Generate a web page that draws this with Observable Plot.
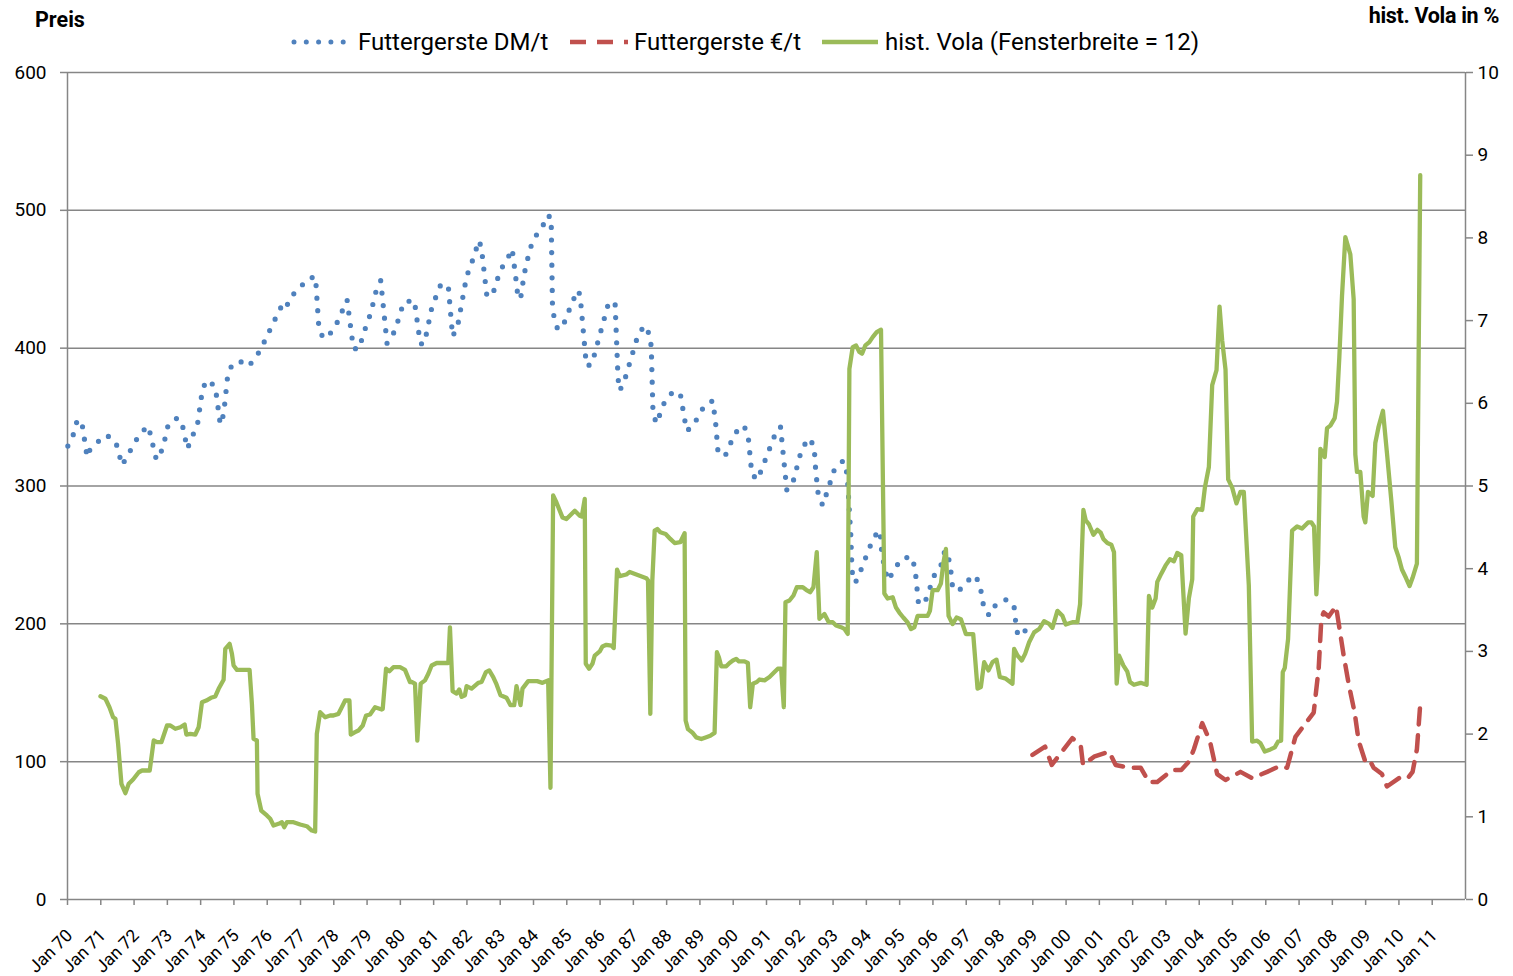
<!DOCTYPE html>
<html><head><meta charset="utf-8">
<script src="https://cdn.jsdelivr.net/npm/d3@7"></script>
<script src="https://cdn.jsdelivr.net/npm/@observablehq/plot@0.6"></script>
<style>
body{margin:0;background:#fff;}
#wrap{position:relative;width:1513px;height:976px;font-family:Roboto,"Noto Sans",sans-serif;color:#000;}
.ttl{position:absolute;font-weight:bold;font-size:21.5px;white-space:nowrap;}
.lg{position:absolute;top:27px;height:30px;font-size:24px;line-height:30px;white-space:nowrap;}
.sw{position:absolute;top:37px;}
#chart{position:absolute;left:0;top:0;}
</style></head>
<body>
<div id="wrap">
  <div id="chart"></div>
  <div class="ttl" style="left:35px;top:7px;">Preis</div>
  <div class="ttl" style="right:14px;top:3px;letter-spacing:-0.3px;">hist. Vola in %</div>
  <svg class="sw" style="left:290px" width="64" height="10"><line x1="4" y1="5" x2="62" y2="5" stroke="#4F81BD" stroke-width="5" stroke-linecap="round" stroke-dasharray="0,12.3"/></svg>
  <div class="lg" style="left:358px">Futtergerste DM/t</div>
  <svg class="sw" style="left:568px" width="62" height="10"><line x1="2" y1="5" x2="60" y2="5" stroke="#C0504D" stroke-width="4.5" stroke-dasharray="16,11"/></svg>
  <div class="lg" style="left:634px">Futtergerste €/t</div>
  <svg class="sw" style="left:820px" width="60" height="10"><line x1="2" y1="5" x2="58" y2="5" stroke="#9BBB59" stroke-width="4.5"/></svg>
  <div class="lg" style="left:885px">hist. Vola (Fensterbreite = 12)</div>
</div>
<script>
// Futtergerste DM/t  [Jahr, Preis]
const dmSeries = [
[1970.01,329],[1970.17,337],[1970.27,346],[1970.42,348],[1970.59,321],[1970.67,326],[1970.91,332],
[1971.17,337],[1971.45,332],[1971.64,315],[1971.80,322],[1971.99,330],[1972.17,338],[1972.43,343.5],
[1972.67,319],[1972.86,327],[1973.03,345],[1973.31,349.5],[1973.45,344.5],[1973.60,327],[1973.78,337.7],
[1973.90,343.7],[1974.06,371],[1974.21,377],[1974.44,372],[1974.59,344.7],[1974.69,352],[1974.81,379.5],
[1974.94,388],[1975.11,388],[1975.32,392],[1975.50,388.7],[1975.68,394],[1975.86,402],[1976.19,418.7],
[1976.44,431],[1976.56,428.6],[1976.69,437],[1976.96,443],[1977.19,450],[1977.45,452],[1977.55,415.5],
[1977.68,407],[1977.93,411.5],[1978.11,419],[1978.40,435],[1978.59,399.8],[1978.76,399.3],[1978.86,408],
[1978.98,416.7],[1979.11,425.4],[1979.29,443.4],[1979.41,449],[1979.60,403.5],[1979.74,407.6],[1979.88,416],
[1980.10,433.4],[1980.42,434.7],[1980.60,403.2],[1980.72,403.2],[1980.95,430],[1981.22,446.5],[1981.44,445],
[1981.57,408.5],[1981.72,416],[1981.99,452],[1982.25,469],[1982.34,478],[1982.43,474],[1982.60,437.7],
[1982.77,438.7],[1983.00,456.4],[1983.20,464],[1983.36,472],[1983.49,446.7],[1983.53,437.6],[1983.61,435.6],
[1983.72,453.7],[1983.89,471.7],[1984.03,480.4],[1984.27,487.4],[1984.37,496],[1984.53,495.3],[1984.57,431],
[1984.62,422],[1984.73,413.4],[1984.91,417.7],[1985.19,435],[1985.36,442],[1985.42,433],[1985.59,387.2],
[1985.75,388.2],[1986.25,432.4],[1986.45,433.4],[1986.54,378],[1986.59,369.3],[1986.72,375.4],[1987.15,410.4],
[1987.35,416.5],[1987.51,408.5],[1987.54,399],[1987.59,353.4],[1987.69,345.4],[1987.82,353.4],[1987.95,361.8],
[1988.20,368.6],[1988.41,367],[1988.60,340],[1988.81,343.7],[1988.97,352],[1989.18,359.6],[1989.39,361.8],
[1989.48,343.7],[1989.54,325.5],[1989.75,321.4],[1990.05,338.3],[1990.32,344],[1990.45,336],[1990.56,308.6],
[1990.73,304.5],[1991.14,330],[1991.28,338.9],[1991.42,343],[1991.61,297.2],[1991.77,300.4],[1992.06,327],
[1992.28,334.7],[1992.43,328.9],[1992.48,310.7],[1992.56,292.6],[1992.69,286],[1993.04,312],[1993.30,318.3],
[1993.40,311.3],[1993.44,302],[1993.53,265.6],[1993.57,238],[1993.67,229.8],[1993.82,238],[1994.09,255],
[1994.24,263.4],[1994.41,267.8],[1994.47,249.6],[1994.64,231.5],[1994.84,238.7],[1995.02,246.7],[1995.34,249],
[1995.46,241],[1995.57,213.8],[1995.79,217.7],[1996.04,235],[1996.24,242.4],[1996.36,253.3],[1996.51,244.8],
[1996.59,226.6],[1996.77,223.6],[1996.98,230],[1997.26,235.3],[1997.41,228.6],[1997.54,210.2],[1997.70,206],
[1997.89,214],[1998.23,217.9],[1998.44,212],[1998.52,194],[1998.71,191],[1998.84,199.8]
];
// Futtergerste €/t  [Jahr, Preis]
const euroSeries = [
[1998.99,104.9],[1999.37,110.9],[1999.57,97.6],[1999.81,105.3],[2000.19,117],[2000.44,111.7],[2000.51,97.6],
[2000.84,103.6],[2001.29,107.3],[2001.49,97.6],[2001.89,95.6],[2002.24,95.6],[2002.49,85.2],[2002.74,85.2],
[2003.19,94],[2003.46,94],[2003.69,100],[2003.84,109],[2004.09,128],[2004.32,115],[2004.54,91],[2004.79,86.7],
[2005.24,92.6],[2005.59,88],[2006.04,92.6],[2006.44,97],[2006.64,95.6],[2006.89,118],[2007.11,125],
[2007.44,135.6],[2007.59,168],[2007.67,204],[2007.74,208.3],[2007.89,205.3],[2008.11,212.8],[2008.34,177],
[2008.49,156.4],[2008.67,135.6],[2008.79,115],[2008.99,100],[2009.11,101.5],[2009.24,95.6],[2009.49,91],
[2009.64,82],[2010.09,89.6],[2010.29,88.7],[2010.41,92.6],[2010.54,109],[2010.64,141.6]
];
// hist. Vola (Fensterbreite = 12) in %  [Jahr, Vola]
const volaSeries = [
[1970.99,2.458],[1971.14,2.427],[1971.26,2.325],[1971.37,2.204],[1971.44,2.185],[1971.52,1.883],[1971.62,1.399],
[1971.74,1.286],[1971.84,1.399],[1971.97,1.451],[1972.14,1.539],[1972.24,1.56],[1972.47,1.56],[1972.59,1.923],
[1972.69,1.902],[1972.82,1.902],[1972.99,2.104],[1973.09,2.104],[1973.24,2.064],[1973.39,2.083],[1973.52,2.116],
[1973.57,1.995],[1973.69,2.003],[1973.84,1.995],[1973.94,2.083],[1974.04,2.386],[1974.17,2.406],[1974.31,2.439],
[1974.44,2.455],[1974.54,2.548],[1974.69,2.657],[1974.74,3.031],[1974.87,3.092],[1974.94,2.971],[1974.99,2.83],
[1975.09,2.777],[1975.47,2.777],[1975.54,2.366],[1975.59,1.943],[1975.69,1.923],[1975.71,1.278],[1975.82,1.076],
[1975.99,1.016],[1976.09,0.976],[1976.19,0.895],[1976.34,0.915],[1976.44,0.935],[1976.51,0.874],[1976.59,0.935],
[1976.79,0.935],[1976.99,0.907],[1977.19,0.886],[1977.34,0.834],[1977.44,0.822],[1977.49,2.003],[1977.59,2.265],
[1977.74,2.204],[1977.89,2.225],[1977.99,2.225],[1978.14,2.245],[1978.24,2.325],[1978.34,2.406],[1978.47,2.406],
[1978.51,1.995],[1978.64,2.023],[1978.74,2.043],[1978.87,2.104],[1978.97,2.225],[1979.09,2.237],[1979.24,2.325],
[1979.44,2.297],[1979.47,2.305],[1979.57,2.79],[1979.67,2.761],[1979.79,2.809],[1979.99,2.809],[1980.14,2.777],
[1980.29,2.628],[1980.34,2.63],[1980.44,2.61],[1980.51,1.92],[1980.61,2.61],[1980.74,2.65],[1980.84,2.73],
[1980.94,2.83],[1981.09,2.86],[1981.44,2.86],[1981.49,3.29],[1981.57,2.52],[1981.69,2.49],[1981.77,2.54],
[1981.84,2.45],[1981.94,2.47],[1981.99,2.58],[1982.14,2.55],[1982.34,2.62],[1982.44,2.63],[1982.57,2.75],
[1982.67,2.77],[1982.79,2.69],[1982.89,2.6],[1983.01,2.47],[1983.19,2.44],[1983.31,2.35],[1983.42,2.35],
[1983.49,2.58],[1983.61,2.35],[1983.67,2.55],[1983.84,2.64],[1984.11,2.64],[1984.27,2.62],[1984.44,2.65],
[1984.51,1.35],[1984.59,4.885],[1984.69,4.8],[1984.87,4.62],[1984.99,4.6],[1985.24,4.7],[1985.39,4.64],
[1985.45,4.63],[1985.54,4.845],[1985.57,2.85],[1985.67,2.79],[1985.77,2.85],[1985.84,2.95],[1985.99,3.0],
[1986.07,3.06],[1986.19,3.08],[1986.34,3.07],[1986.41,3.04],[1986.51,3.99],[1986.59,3.91],[1986.79,3.93],
[1986.89,3.96],[1987.39,3.885],[1987.44,3.86],[1987.51,2.245],[1987.57,3.86],[1987.64,4.46],[1987.72,4.48],
[1987.81,4.44],[1987.97,4.42],[1988.11,4.36],[1988.24,4.31],[1988.41,4.32],[1988.54,4.43],[1988.57,2.165],
[1988.64,2.06],[1988.77,2.02],[1988.89,1.96],[1989.04,1.94],[1989.17,1.96],[1989.31,1.98],[1989.44,2.015],
[1989.51,2.99],[1989.57,2.93],[1989.64,2.82],[1989.79,2.82],[1989.89,2.86],[1989.99,2.89],[1990.09,2.91],
[1990.17,2.88],[1990.34,2.88],[1990.44,2.86],[1990.51,2.325],[1990.59,2.61],[1990.71,2.63],[1990.79,2.66],
[1990.94,2.65],[1991.09,2.69],[1991.24,2.75],[1991.34,2.79],[1991.44,2.79],[1991.52,2.325],[1991.57,3.595],
[1991.69,3.615],[1991.81,3.676],[1991.91,3.776],[1992.09,3.776],[1992.19,3.745],[1992.31,3.716],[1992.41,3.776],
[1992.51,4.2],[1992.59,3.394],[1992.74,3.453],[1992.87,3.353],[1992.99,3.353],[1993.09,3.313],[1993.24,3.293],
[1993.34,3.273],[1993.44,3.212],[1993.49,6.417],[1993.59,6.68],[1993.69,6.7],[1993.79,6.62],[1993.87,6.6],
[1993.97,6.7],[1994.09,6.74],[1994.19,6.8],[1994.31,6.86],[1994.44,6.89],[1994.54,3.7],[1994.64,3.64],
[1994.79,3.655],[1994.89,3.53],[1994.99,3.47],[1995.11,3.41],[1995.24,3.35],[1995.34,3.27],[1995.44,3.29],
[1995.54,3.43],[1995.84,3.43],[1995.91,3.49],[1995.99,3.74],[1996.14,3.74],[1996.24,3.82],[1996.31,4.06],
[1996.39,4.24],[1996.47,3.43],[1996.59,3.33],[1996.71,3.41],[1996.84,3.39],[1996.99,3.21],[1997.21,3.21],
[1997.34,2.55],[1997.44,2.57],[1997.54,2.87],[1997.67,2.77],[1997.79,2.87],[1997.91,2.9],[1998.01,2.69],
[1998.19,2.67],[1998.39,2.61],[1998.44,3.03],[1998.54,2.95],[1998.67,2.89],[1998.77,2.97],[1998.89,3.11],
[1999.04,3.23],[1999.19,3.27],[1999.34,3.365],[1999.49,3.333],[1999.59,3.285],[1999.74,3.49],[1999.89,3.43],
[1999.99,3.325],[2000.19,3.353],[2000.34,3.353],[2000.42,3.57],[2000.52,4.71],[2000.59,4.585],[2000.69,4.535],
[2000.82,4.41],[2000.94,4.47],[2001.04,4.436],[2001.12,4.36],[2001.24,4.31],[2001.36,4.29],[2001.44,4.2],
[2001.52,2.61],[2001.59,2.95],[2001.72,2.83],[2001.84,2.755],[2001.92,2.63],[2002.04,2.596],[2002.24,2.62],
[2002.42,2.596],[2002.49,3.67],[2002.59,3.53],[2002.69,3.64],[2002.74,3.84],[2002.86,3.94],[2002.99,4.04],
[2003.12,4.115],[2003.24,4.09],[2003.34,4.19],[2003.46,4.165],[2003.59,3.215],[2003.69,3.645],[2003.79,3.87],
[2003.82,4.63],[2003.94,4.72],[2004.09,4.71],[2004.17,4.98],[2004.29,5.23],[2004.39,6.22],[2004.52,6.4],
[2004.61,7.17],[2004.69,6.76],[2004.79,6.41],[2004.87,5.08],[2004.99,4.98],[2005.12,4.79],[2005.24,4.93],
[2005.34,4.93],[2005.49,3.8],[2005.59,1.91],[2005.74,1.92],[2005.84,1.89],[2005.97,1.79],[2006.14,1.815],
[2006.27,1.84],[2006.37,1.91],[2006.46,1.92],[2006.51,2.75],[2006.57,2.8],[2006.67,3.15],[2006.79,4.46],
[2006.94,4.51],[2007.09,4.485],[2007.27,4.56],[2007.37,4.56],[2007.45,4.51],[2007.52,3.69],[2007.57,4.06],
[2007.64,5.45],[2007.77,5.35],[2007.84,5.7],[2007.94,5.73],[2008.07,5.82],[2008.14,6.02],[2008.21,6.56],
[2008.29,7.3],[2008.39,8.01],[2008.54,7.8],[2008.64,7.26],[2008.69,5.38],[2008.74,5.17],[2008.84,5.17],
[2008.94,4.63],[2008.99,4.56],[2009.07,4.93],[2009.21,4.88],[2009.29,5.52],[2009.39,5.72],[2009.52,5.91],
[2009.64,5.4],[2009.77,4.83],[2009.89,4.26],[2009.99,4.14],[2010.09,3.99],[2010.21,3.89],[2010.32,3.79],
[2010.41,3.89],[2010.54,4.06],[2010.59,6.46],[2010.64,8.76]
];
const yearTicks = d3.range(1970, 2012);
const priceTicks = [0, 100, 200, 300, 400, 500, 600];
const volaTicks = d3.range(0, 11);
const volaFactor = 60; // 10 % <-> 600

const gray = "#868686";
const font = 'Roboto,"Noto Sans",sans-serif';

const chart = Plot.plot({
  width: 1513,
  height: 976,
  marginLeft: 67,
  marginRight: 48,
  marginTop: 72,
  marginBottom: 77,
  style: {fontFamily: font, fontSize: "19px", color: "#000", background: "#fff"},
  x: {type: "linear", domain: [1970, 2012]},
  y: {domain: [0, 600]},
  marks: [
    Plot.ruleY(priceTicks, {stroke: gray, strokeWidth: 1.5}),
    Plot.ruleX([1970, 2012], {stroke: gray, strokeWidth: 1.5}),
    Plot.axisY({ticks: priceTicks, tickSize: 7, tickPadding: 14, stroke: gray, strokeWidth: 1.5, label: null, fontSize: 19}),
    Plot.axisY({anchor: "right", ticks: volaTicks.map(v => v * volaFactor), tickFormat: d => d / volaFactor, tickSize: 7, tickPadding: 5, stroke: gray, strokeWidth: 1.5, label: null, fontSize: 19}),
    Plot.axisX({ticks: yearTicks, tickSize: 6, tickFormat: () => "", stroke: gray, strokeWidth: 1.5, label: null}),
    Plot.text(yearTicks, {x: d => d, y: 0, text: d => "Jan " + String(d % 100).padStart(2, "0"), rotate: -45, textAnchor: "end", lineAnchor: "middle", dx: 2, dy: 33, fontSize: 17.5}),
    Plot.line(dmSeries, {x: d => d[0], y: d => d[1], stroke: "#4F81BD", strokeWidth: 5.2, strokeLinecap: "round", strokeDasharray: "0,12.6"}),
    Plot.line(euroSeries, {x: d => d[0], y: d => d[1], stroke: "#C0504D", strokeWidth: 4.5, strokeDasharray: "16,11"}),
    Plot.line(volaSeries, {x: d => d[0], y: d => d[1] * volaFactor, stroke: "#9BBB59", strokeWidth: 4.3, strokeLinejoin: "round"})
  ]
});
document.getElementById("chart").appendChild(chart);
</script>
</body></html>
